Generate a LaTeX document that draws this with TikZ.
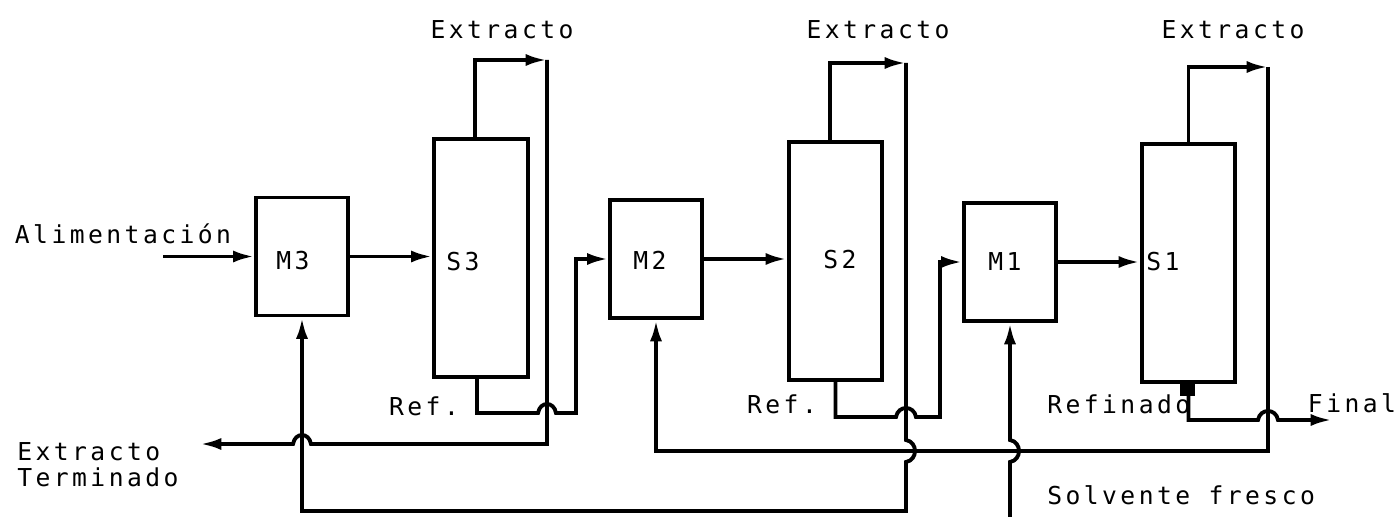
\documentclass[tikz,border=0pt]{standalone}
\usepackage{fontspec}
\setmonofont[LetterSpace=14]{DejaVu Sans Mono}
\usetikzlibrary{arrows.meta,calc}

\begin{document}
\begin{tikzpicture}[x=0.75pt,y=-0.75pt,
  linea/.style={line width=2.9pt},
  flecha/.style={linea,-{Latex[length=16pt,width=9pt]}},
  mezclador/.style={draw,line width=2.9pt,minimum width=68.5pt,minimum height=88.5pt,inner sep=0pt},
  separador/.style={draw,line width=2.9pt,minimum width=70pt,minimum height=178pt,inner sep=0pt},
  texto/.style={font=\ttfamily\fontsize{18.5}{19.5}\selectfont,inner sep=0pt}]
\useasboundingbox (0,0) rectangle (1399,517);
% Mezcladores y separadores
\node[mezclador] (m3) at (302,256.5) {};
\node[mezclador] (m2) at (656,259) {};
\node[mezclador] (m1) at (1010,262) {};
\node[separador] (s3) at (481,258) {};
\node[separador] (s2) at (835.5,261) {};
\node[separador] (s1) at (1188.5,263) {};
\node[texto] (lm3) at (293,261) {M3};
\node[texto] (ls3) at (463,262) {S3};
\node[texto] (lm2) at (650,260) {M2};
\node[texto] (ls2) at (840,260) {S2};
\node[texto] (lm1) at (1005,262) {M1};
\node[texto] (ls1) at (1163,262) {S1};
% Puntos de las corrientes
\coordinate (alim) at (163,256.5);
\coordinate (e3) at (547,60);
\coordinate (e3b) at (547,444);
\coordinate (xterm) at (200,444);
\coordinate (r3) at (576,413);
\coordinate (e2) at (906,63);
\coordinate (fondo) at (906,511);
\coordinate (r2) at (940,417);
\coordinate (e1) at (1268,67);
\coordinate (e1b) at (1268,451);
\coordinate (solv) at (1010,517);
\coordinate (final) at (1332,420);
% Alimentacion y paso mezclador -> separador
\draw[flecha] (alim) -- (m3.west);
\draw[flecha] (m3.east) -- (m3.east -| s3.west);
\draw[flecha] (m2.east) -- (m2.east -| s2.west);
\draw[flecha] (m1.east) -- (m1.east -| s1.west);
% Extracto de S3 -> extracto terminado
\draw[flecha] ([xshift=-4.5pt]s3.north) |- (e3);
\draw[flecha] (e3) -- (e3b) -- (311,444) .. controls (309,432) and (295,432) .. (293,444) -- (xterm);
% Refinado de S3 -> M2
\draw[flecha] ([xshift=-3pt]s3.south) |- (538,413) .. controls (540,401) and (554,401) .. (556,413) -- (r3) |- (m2.west);
% Extracto de S2 -> M3
\draw[flecha] ([xshift=-4pt]s2.north) |- (e2);
\draw[flecha] (e2) -- (906,440) .. controls (918,442) and (918,460) .. (906,462) -- (fondo) -| (m3.south);
% Refinado de S2 -> M1
\draw[flecha] (s2.south) |- (896,417) .. controls (898,405) and (914,405) .. (916,417) -- (r2) |- (m1.west);
% Extracto de S1 -> M2
\draw[flecha] (s1.north) |- (e1);
\draw[flecha] (e1) -- (e1b) -| (m2.south);
% Solvente fresco -> M1
\draw[flecha] (solv) -- (1010,462) .. controls (1022,460) and (1022,442) .. (1010,440) -- (m1.south);
% Refinado final
\fill (1180,381) rectangle (1195,396);
\draw[flecha] (s1.south) |- (1258,420) .. controls (1260,408) and (1276,408) .. (1278,420) -- (final);
% Textos
\node[texto] (t3) at (502,30) {Extracto};
\node[texto] (t2) at (878,30) {Extracto};
\node[texto] (t1) at (1233,30) {Extracto};
\node[texto] (talim) at (123,234) {Alimentación};
\node[texto,align=left,anchor=west] (tterm) at (17,465) {Extracto\\Terminado};
\node[texto] (tref3) at (424,406) {Ref.};
\node[texto] (tref2) at (782,404) {Ref.};
\node[texto,anchor=west] (tref1) at (1047,404) {Refinado};
\node[texto] (tfin) at (1352,403) {Final};
\node[texto,anchor=west] (tsolv) at (1047,495) {Solvente fresco};
\end{tikzpicture}
\end{document}
